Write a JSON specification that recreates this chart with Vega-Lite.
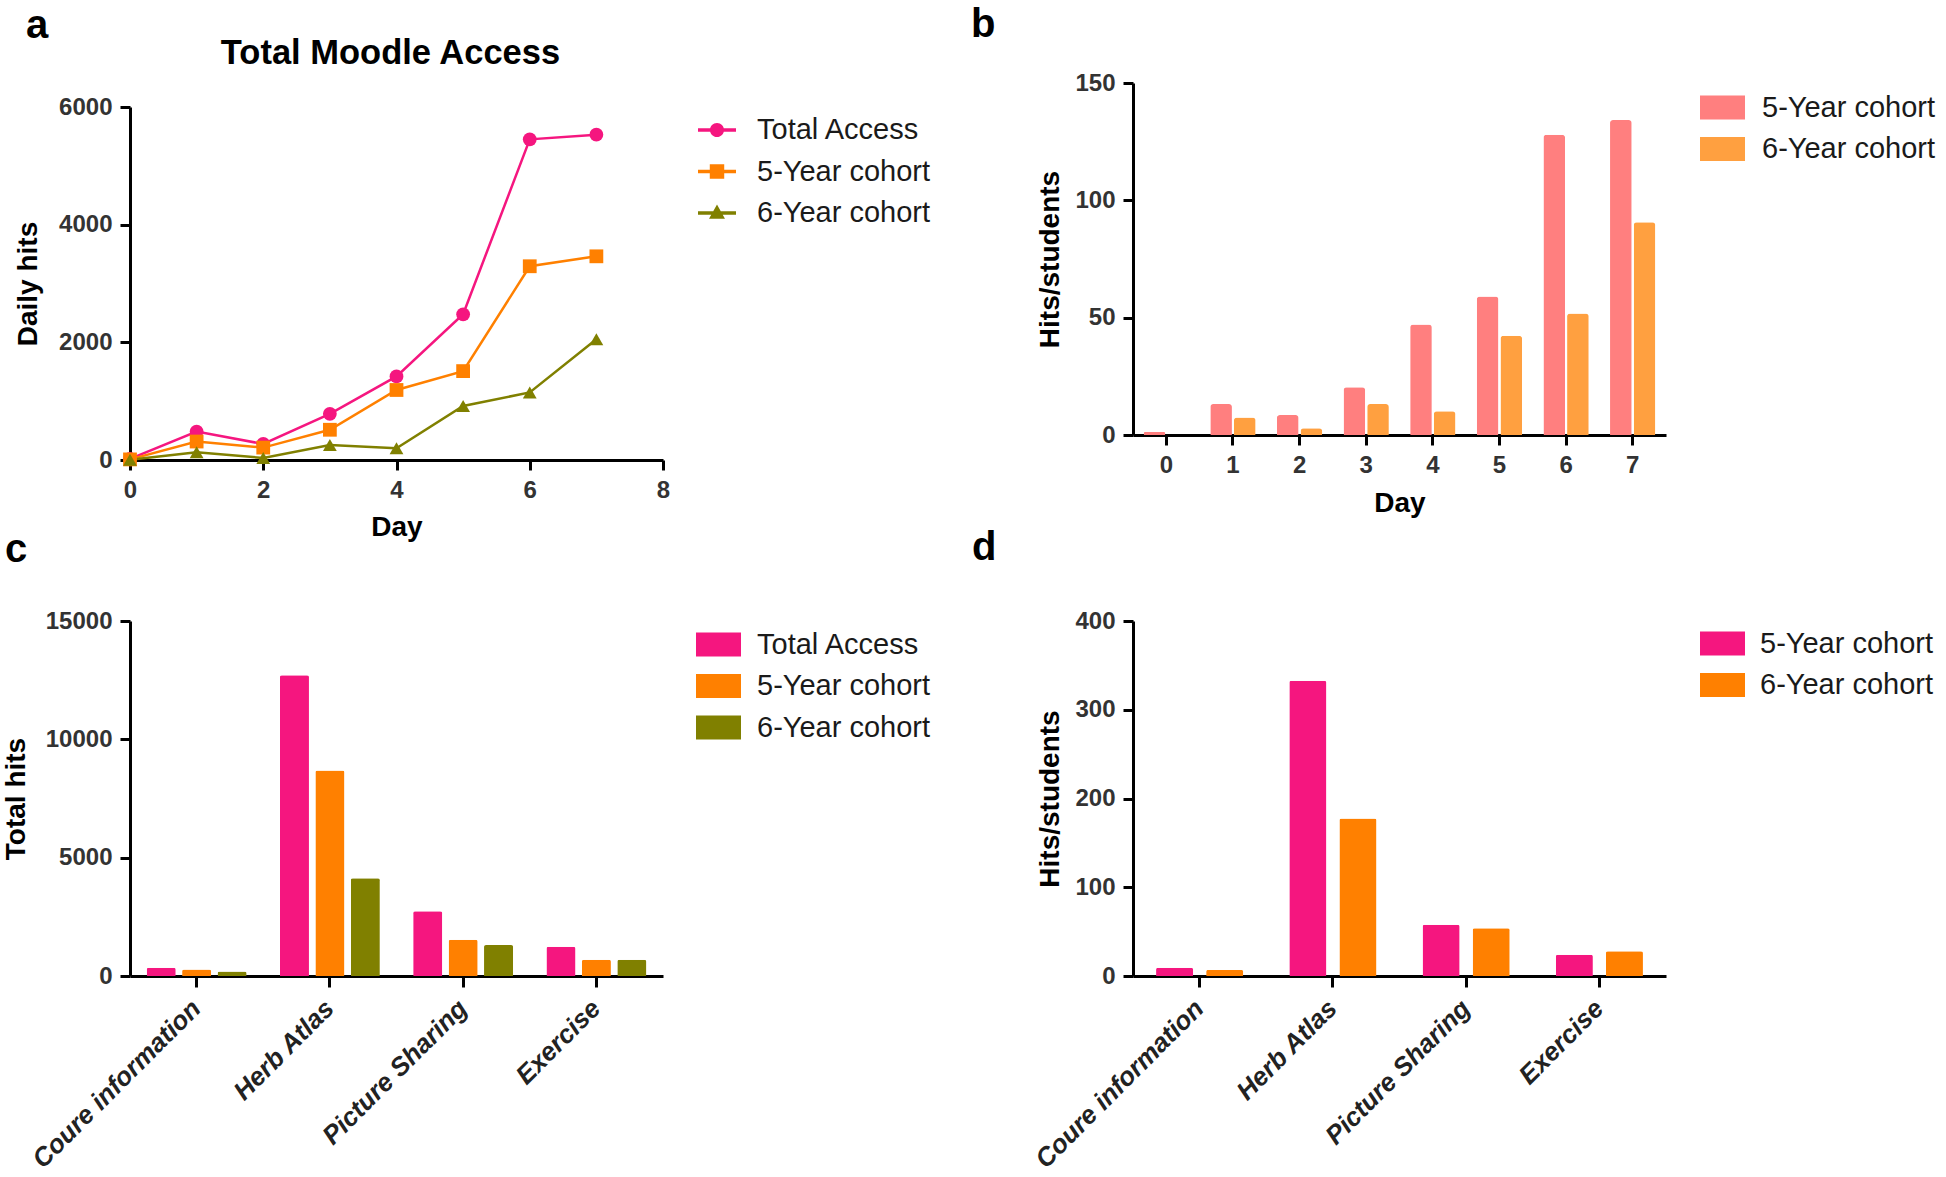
{
  "$schema": "https://vega.github.io/schema/vega-lite/v6.json",
  "autosize": {"type": "none"},
  "padding": {"left": 130, "top": 83, "right": 1816, "bottom": 1094},
  "background": "white",
  "columns": 2,
  "spacing": {"row": 161, "column": 470},
  "bounds": "flush",
  "resolve": {"scale": {"color": "independent", "xOffset": "independent"}, "legend": {"color": "independent"}},
  "concat": [
    {
      "width": 533,
      "height": 377,
      "title": {"text": "a", "anchor": "start", "frame": "group", "fontSize": 40, "fontWeight": "bold", "baseline": "alphabetic", "offset": -43, "dx": -104, "color": "#000"},
      "data": {"values": [
        {"day": 0, "series": "Total Access", "hits": 20},
        {"day": 1, "series": "Total Access", "hits": 483},
        {"day": 2, "series": "Total Access", "hits": 272},
        {"day": 3, "series": "Total Access", "hits": 785},
        {"day": 4, "series": "Total Access", "hits": 1420},
        {"day": 5, "series": "Total Access", "hits": 2477},
        {"day": 6, "series": "Total Access", "hits": 5450},
        {"day": 7, "series": "Total Access", "hits": 5529},
        {"day": 0, "series": "5-Year cohort", "hits": 10},
        {"day": 1, "series": "5-Year cohort", "hits": 314},
        {"day": 2, "series": "5-Year cohort", "hits": 211},
        {"day": 3, "series": "5-Year cohort", "hits": 514},
        {"day": 4, "series": "5-Year cohort", "hits": 1190},
        {"day": 5, "series": "5-Year cohort", "hits": 1511},
        {"day": 6, "series": "5-Year cohort", "hits": 3293},
        {"day": 7, "series": "5-Year cohort", "hits": 3462},
        {"day": 0, "series": "6-Year cohort", "hits": 5},
        {"day": 1, "series": "6-Year cohort", "hits": 133},
        {"day": 2, "series": "6-Year cohort", "hits": 35},
        {"day": 3, "series": "6-Year cohort", "hits": 254},
        {"day": 4, "series": "6-Year cohort", "hits": 200},
        {"day": 5, "series": "6-Year cohort", "hits": 918},
        {"day": 6, "series": "6-Year cohort", "hits": 1148},
        {"day": 7, "series": "6-Year cohort", "hits": 2054}
      ]},
      "encoding": {
        "y": {"field": "hits", "type": "quantitative", "scale": {"domain": [0, 6000], "range": [377, 24], "nice": false}, "axis": {"values": [0, 2000, 4000, 6000], "title": "Daily hits", "titlePadding": 16, "format": "d"}}
      },
      "resolve": {"axis": {"x": "independent"}},
      "layer": [
        {
          "mark": {"type": "line", "strokeWidth": 2.5},
          "encoding": {
            "x": {"field": "day", "type": "quantitative", "scale": {"domain": [0, 8], "nice": false, "zero": false}, "axis": {"values": [0, 2, 4, 6, 8], "title": "Day", "titlePadding": 11, "format": "d"}},
            "stroke": {"field": "series", "type": "nominal", "scale": {"domain": ["Total Access", "5-Year cohort", "6-Year cohort"], "range": ["#F5167F", "#FF8000", "#808000"]}, "legend": null}
          }
        },
        {
          "mark": {"type": "point", "filled": true, "opacity": 1, "size": 190, "shape": {"expr": "datum.series === 'Total Access' ? 'circle' : (datum.series === '5-Year cohort' ? 'square' : 'triangle-up')"}},
          "encoding": {
            "x": {"field": "day", "type": "quantitative", "scale": {"domain": [0, 8], "nice": false, "zero": false}, "axis": {"orient": "top", "title": "Total Moodle Access", "domain": false, "ticks": false, "labels": false, "titleFontSize": 34.5, "titlePadding": 13, "titleX": 260, "titleColor": "#000"}},
            "color": {"field": "series", "type": "nominal", "scale": {"domain": ["Total Access", "5-Year cohort", "6-Year cohort"], "range": ["#F5167F", "#FF8000", "#808000"]},
              "legend": {"orient": "none", "legendX": 568, "legendY": 28, "title": null, "symbolSize": 1444, "symbolStrokeWidth": 0, "labelOffset": 21, "rowPadding": 7.5,
                "symbolType": {"expr": "datum.value === 'Total Access' ? 'M-1,-0.09H1V0.09H-1Z M-0.37,0A0.37,0.37,0,1,1,0.37,0A0.37,0.37,0,1,1,-0.37,0Z' : (datum.value === '5-Year cohort' ? 'M-1,-0.09H1V0.09H-1Z M-0.38,-0.38H0.38V0.38H-0.38Z' : 'M-1,-0.09H1V0.09H-1Z M0,-0.45L0.42,0.3H-0.42Z')"}}}
          }
        }
      ]
    },
    {
      "width": 533,
      "height": 352,
      "title": {"text": "b", "anchor": "start", "frame": "group", "fontSize": 40, "fontWeight": "bold", "baseline": "alphabetic", "offset": -6, "dx": -162, "color": "#000"},
      "data": {"values": [
        {"day": 0, "cohort": "5-Year cohort", "v": 1.3},
        {"day": 1, "cohort": "5-Year cohort", "v": 13.2},
        {"day": 2, "cohort": "5-Year cohort", "v": 8.5},
        {"day": 3, "cohort": "5-Year cohort", "v": 20.4},
        {"day": 4, "cohort": "5-Year cohort", "v": 47.1},
        {"day": 5, "cohort": "5-Year cohort", "v": 59},
        {"day": 6, "cohort": "5-Year cohort", "v": 128},
        {"day": 7, "cohort": "5-Year cohort", "v": 134.2},
        {"day": 0, "cohort": "6-Year cohort", "v": 0},
        {"day": 1, "cohort": "6-Year cohort", "v": 7.5},
        {"day": 2, "cohort": "6-Year cohort", "v": 2.9},
        {"day": 3, "cohort": "6-Year cohort", "v": 13.2},
        {"day": 4, "cohort": "6-Year cohort", "v": 10.1},
        {"day": 5, "cohort": "6-Year cohort", "v": 42.3},
        {"day": 6, "cohort": "6-Year cohort", "v": 51.8},
        {"day": 7, "cohort": "6-Year cohort", "v": 90.7}
      ]},
      "mark": {"type": "bar", "cornerRadiusTopLeft": 3, "cornerRadiusTopRight": 3},
      "encoding": {
        "x": {"field": "day", "type": "ordinal", "scale": {"paddingInner": 0.32, "paddingOuter": 0.16}, "axis": {"title": "Day", "labelAngle": 0, "titlePadding": 12, "bandPosition": 0.5}},
        "xOffset": {"field": "cohort", "type": "nominal", "scale": {"domain": ["5-Year cohort", "6-Year cohort"], "paddingInner": 0.085}},
        "y": {"field": "v", "type": "quantitative", "scale": {"domain": [0, 150], "nice": false}, "axis": {"values": [0, 50, 100, 150], "title": "Hits/students", "titlePadding": 10}},
        "color": {"field": "cohort", "type": "nominal", "scale": {"domain": ["5-Year cohort", "6-Year cohort"], "range": ["#FF7F7F", "#FFA040"]},
          "legend": {"orient": "none", "legendX": 567, "legendY": 2, "title": null, "symbolType": "M-1,-0.53H1V0.53H-1Z", "symbolSize": 2025, "symbolStrokeWidth": 0, "labelOffset": 17, "rowPadding": 3.5}}
      }
    },
    {
      "width": 533,
      "height": 355,
      "title": {"text": "c", "anchor": "start", "frame": "group", "fontSize": 40, "fontWeight": "bold", "baseline": "alphabetic", "offset": 7, "dx": -125, "color": "#000"},
      "data": {"values": [
        {"cat": "Coure information", "series": "Total Access", "v": 344},
        {"cat": "Herb Atlas", "series": "Total Access", "v": 12712},
        {"cat": "Picture Sharing", "series": "Total Access", "v": 2735},
        {"cat": "Exercise", "series": "Total Access", "v": 1239},
        {"cat": "Coure information", "series": "5-Year cohort", "v": 275},
        {"cat": "Herb Atlas", "series": "5-Year cohort", "v": 8687},
        {"cat": "Picture Sharing", "series": "5-Year cohort", "v": 1531},
        {"cat": "Exercise", "series": "5-Year cohort", "v": 688},
        {"cat": "Coure information", "series": "6-Year cohort", "v": 190},
        {"cat": "Herb Atlas", "series": "6-Year cohort", "v": 4128},
        {"cat": "Picture Sharing", "series": "6-Year cohort", "v": 1307},
        {"cat": "Exercise", "series": "6-Year cohort", "v": 688}
      ]},
      "mark": {"type": "bar", "cornerRadiusTopLeft": 2, "cornerRadiusTopRight": 2},
      "encoding": {
        "x": {"field": "cat", "type": "nominal", "sort": ["Coure information", "Herb Atlas", "Picture Sharing", "Exercise"], "scale": {"paddingInner": 0.25, "paddingOuter": 0.125},
          "axis": {"title": null, "labelAngle": -45, "labelAlign": "right", "labelBaseline": "middle", "labelFontStyle": "italic", "labelFontSize": 26, "labelColor": "#222", "labelPadding": 17, "labelLimit": 400, "tickSize": 11, "bandPosition": 0.5}},
        "xOffset": {"field": "series", "type": "nominal", "scale": {"domain": ["Total Access", "5-Year cohort", "6-Year cohort"], "paddingInner": 0.18}},
        "y": {"field": "v", "type": "quantitative", "scale": {"domain": [0, 15000], "nice": false}, "axis": {"values": [0, 5000, 10000, 15000], "title": "Total hits", "titlePadding": 15, "format": "d"}},
        "color": {"field": "series", "type": "nominal", "scale": {"domain": ["Total Access", "5-Year cohort", "6-Year cohort"], "range": ["#F5167F", "#FF8000", "#808000"]},
          "legend": {"orient": "none", "legendX": 566, "legendY": 1, "title": null, "symbolType": "M-1,-0.53H1V0.53H-1Z", "symbolSize": 2025, "symbolStrokeWidth": 0, "labelOffset": 16, "rowPadding": 3.5}}
      }
    },
    {
      "width": 533,
      "height": 355,
      "title": {"text": "d", "anchor": "start", "frame": "group", "fontSize": 40, "fontWeight": "bold", "baseline": "alphabetic", "offset": 9, "dx": -161, "color": "#000"},
      "data": {"values": [
        {"cat": "Coure information", "cohort": "5-Year cohort", "v": 9.2},
        {"cat": "Herb Atlas", "cohort": "5-Year cohort", "v": 332.6},
        {"cat": "Picture Sharing", "cohort": "5-Year cohort", "v": 57.8},
        {"cat": "Exercise", "cohort": "5-Year cohort", "v": 23.9},
        {"cat": "Coure information", "cohort": "6-Year cohort", "v": 6.9},
        {"cat": "Herb Atlas", "cohort": "6-Year cohort", "v": 177.5},
        {"cat": "Picture Sharing", "cohort": "6-Year cohort", "v": 53.7},
        {"cat": "Exercise", "cohort": "6-Year cohort", "v": 28}
      ]},
      "mark": {"type": "bar", "cornerRadiusTopLeft": 2, "cornerRadiusTopRight": 2},
      "encoding": {
        "x": {"field": "cat", "type": "nominal", "sort": ["Coure information", "Herb Atlas", "Picture Sharing", "Exercise"], "scale": {"paddingInner": 0.346, "paddingOuter": 0.173},
          "axis": {"title": null, "labelAngle": -45, "labelAlign": "right", "labelBaseline": "middle", "labelFontStyle": "italic", "labelFontSize": 26, "labelColor": "#222", "labelPadding": 17, "labelLimit": 400, "tickSize": 11, "bandPosition": 0.5}},
        "xOffset": {"field": "cohort", "type": "nominal", "scale": {"domain": ["5-Year cohort", "6-Year cohort"], "paddingInner": 0.26}},
        "y": {"field": "v", "type": "quantitative", "scale": {"domain": [0, 400], "nice": false}, "axis": {"values": [0, 100, 200, 300, 400], "title": "Hits/students", "titlePadding": 10}},
        "color": {"field": "cohort", "type": "nominal", "scale": {"domain": ["5-Year cohort", "6-Year cohort"], "range": ["#F5167F", "#FF8000"]},
          "legend": {"orient": "none", "legendX": 567, "legendY": 0, "title": null, "symbolType": "M-1,-0.53H1V0.53H-1Z", "symbolSize": 2025, "symbolStrokeWidth": 0, "labelOffset": 15, "rowPadding": 3.5}}
      }
    }
  ],
  "config": {
    "view": {"stroke": null},
    "font": "Liberation Sans",
    "axis": {"grid": false, "domainColor": "#000", "domainWidth": 3, "tickColor": "#000", "tickWidth": 3, "tickSize": 10,
      "labelFont": "Liberation Sans", "labelFontSize": 24, "labelFontWeight": "bold", "labelColor": "#333", "labelPadding": 8, "labelOverlap": false, "labelFlush": false,
      "titleFont": "Liberation Sans", "titleFontSize": 28, "titleFontWeight": "bold", "titleColor": "#000"},
    "legend": {"labelFont": "Liberation Sans", "labelFontSize": 29, "labelColor": "#1a1a1a", "labelLimit": 400},
    "title": {"font": "Liberation Sans"}
  }
}
